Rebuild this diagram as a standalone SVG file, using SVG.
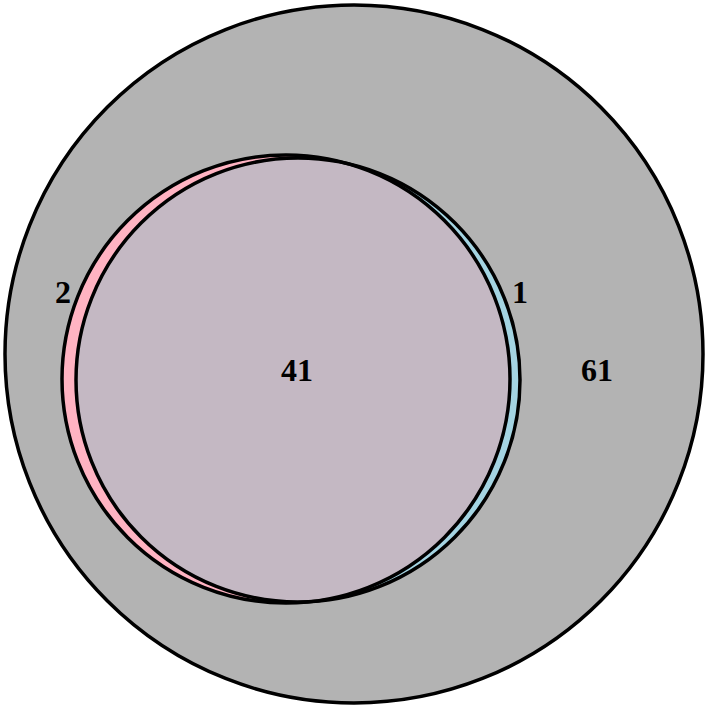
<svg xmlns="http://www.w3.org/2000/svg" width="707" height="709" viewBox="0 0 707 709">
<style>
.c{stroke:#000;stroke-width:3.5}
.t{font-family:"Liberation Serif",serif;font-weight:bold;font-size:32px;text-anchor:middle;fill:#000}
</style>
<defs>
<clipPath id="bc"><circle cx="298" cy="380" r="222"/></clipPath>
</defs>
<rect width="707" height="709" fill="#fff"/>
<g id="all"><circle class="c" cx="354" cy="354" r="349" fill="#b3b3b3"/></g>
<g id="pink"><circle cx="286" cy="379" r="224" fill="#ffb3c2"/></g>
<g id="blue"><circle cx="298" cy="380" r="222" fill="#a4d4e2"/></g>
<g id="overlap"><circle cx="286" cy="379" r="224" fill="#c4b8c3" clip-path="url(#bc)"/></g>
<g id="outlines" fill="none">
<circle class="c" cx="286" cy="379" r="224"/>
<circle class="c" cx="298" cy="380" r="222"/>
</g>
<g id="labels">
<text class="t" x="63" y="303">2</text>
<text class="t" x="520" y="303">1</text>
<text class="t" x="297" y="381">41</text>
<text class="t" x="597" y="381">61</text>
</g>
</svg>
